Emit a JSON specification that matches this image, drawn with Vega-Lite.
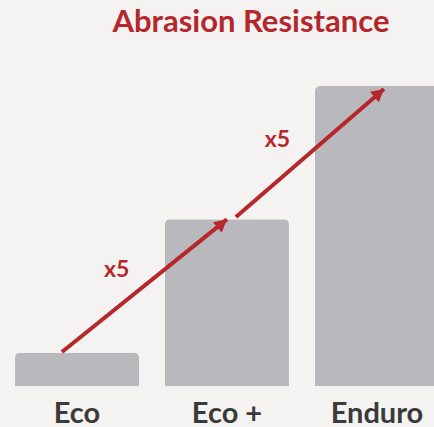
{
  "$schema": "https://vega.github.io/schema/vega-lite/v6.json",
  "width": 434,
  "height": 300,
  "autosize": "none",
  "padding": {"left": 0, "top": 86, "right": 0, "bottom": 41},
  "background": "#f4f3f1",
  "config": {"view": {"stroke": null}, "font": "Lato"},
  "title": {
    "text": "Abrasion Resistance",
    "font": "Lato",
    "fontSize": 31,
    "fontWeight": "bold",
    "color": "#b5272d",
    "anchor": "middle",
    "dx": 34,
    "baseline": "alphabetic",
    "offset": 23
  },
  "datasets": {
    "bars": [
      {"product": "Eco", "value": 1},
      {"product": "Eco +", "value": 5},
      {"product": "Enduro", "value": 9}
    ],
    "segments": [
      {"x": 0.413, "y": 1.02, "x2": 1.513, "y2": 5.0},
      {"x": 1.573, "y": 5.07, "x2": 2.56, "y2": 8.91}
    ],
    "labels": [
      {"x": 0.777, "y": 3.48, "text": "x5"},
      {"x": 1.85, "y": 7.38, "text": "x5"}
    ]
  },
  "layer": [
    {
      "data": {"name": "bars"},
      "mark": {"type": "bar", "color": "#b8b8bd", "cornerRadiusTopLeft": 5, "cornerRadiusTopRight": 5},
      "encoding": {
        "x": {
          "field": "product", "type": "nominal", "sort": null,
          "scale": {"range": [0, 454], "paddingInner": 0.1733, "paddingOuter": 0.1},
          "axis": {
            "title": null, "domain": false, "ticks": false, "labelAngle": 0,
            "labelFont": "Lato", "labelFontSize": 29, "labelFontWeight": "bold",
            "labelColor": "#3a3a3a", "labelPadding": 13
          }
        },
        "y": {"field": "value", "type": "quantitative", "scale": {"domain": [0, 9]}, "axis": null}
      }
    },
    {
      "data": {"name": "segments"},
      "mark": {"type": "rule", "color": "#b5272d", "strokeWidth": 4},
      "encoding": {
        "x": {"field": "x", "type": "quantitative", "scale": {"domain": [0, 3.0267], "range": [0, 454], "nice": false, "zero": false}, "axis": null},
        "x2": {"field": "x2"},
        "y": {"field": "y", "type": "quantitative", "scale": {"domain": [0, 9]}, "axis": null},
        "y2": {"field": "y2"}
      }
    },
    {
      "data": {"name": "segments"},
      "mark": {"type": "point", "shape": "M0,0L-0.6,1.1L0.6,1.1Z", "filled": true, "color": "#b5272d", "opacity": 1, "size": 520, "angle": 50},
      "encoding": {
        "x": {"field": "x2", "type": "quantitative", "scale": {"domain": [0, 3.0267], "range": [0, 454], "nice": false, "zero": false}, "axis": null},
        "y": {"field": "y2", "type": "quantitative", "scale": {"domain": [0, 9]}, "axis": null}
      }
    },
    {
      "data": {"name": "labels"},
      "mark": {"type": "text", "font": "Lato", "fontSize": 23, "fontWeight": "bold", "color": "#b5272d", "align": "center", "baseline": "middle"},
      "encoding": {
        "x": {"field": "x", "type": "quantitative", "scale": {"domain": [0, 3.0267], "range": [0, 454], "nice": false, "zero": false}, "axis": null},
        "y": {"field": "y", "type": "quantitative", "scale": {"domain": [0, 9]}, "axis": null},
        "text": {"field": "text"}
      }
    }
  ],
  "resolve": {"scale": {"x": "independent"}}
}
